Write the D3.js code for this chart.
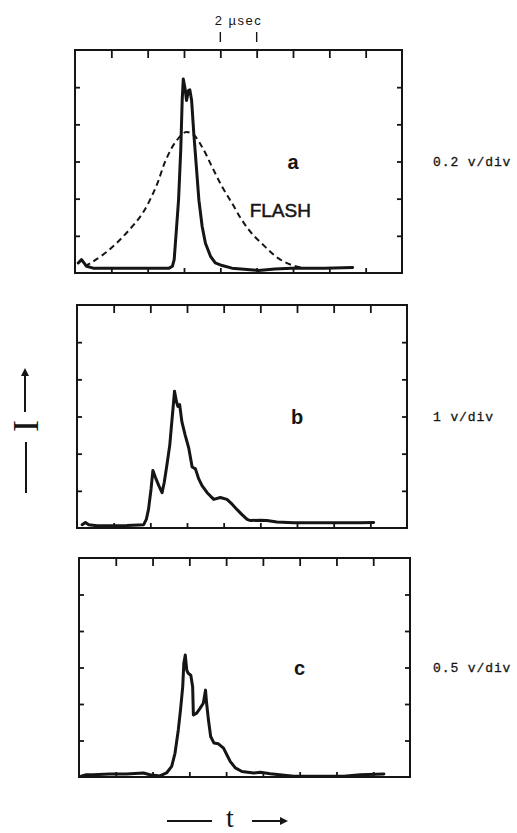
<!DOCTYPE html>
<html>
<head>
<meta charset="utf-8">
<script src="https://cdn.jsdelivr.net/npm/d3@7"></script>
<style>
  body { margin: 0; background: #fff; }
  svg { display: block; }
</style>
</head>
<body>
<div id="chart"></div>
<script>
// traces, in divisions (x: 0..9, y: 0..6)
var traceA = [[0.09,0.27],[0.18,0.36],[0.32,0.18],[0.5,0.13],[1.41,0.13],[2.59,0.13],[2.68,0.18],[2.73,0.36],
  [2.77,0.89],[2.85,1.96],[2.91,3.3],[2.95,4.64],[2.98,5.22],[3.03,4.96],[3.07,4.64],[3.12,4.91],[3.16,4.93],
  [3.21,4.64],[3.27,3.75],[3.34,2.86],[3.41,1.96],[3.5,1.25],[3.59,0.8],[3.73,0.45],[3.86,0.27],[4.05,0.2],
  [4.32,0.13],[5.05,0.07],[5.5,0.11],[5.95,0.13],[6.86,0.13],[7.64,0.15]];

var flashA = [[0.27,0.18],[0.5,0.31],[0.95,0.63],[1.41,1.07],[1.86,1.61],[2.23,2.32],[2.5,3.04],[2.77,3.53],
  [3.05,3.79],[3.27,3.71],[3.5,3.39],[3.77,2.86],[4.05,2.32],[4.32,1.88],[4.59,1.43],[4.86,1.07],[5.23,0.71],
  [5.59,0.4],[5.95,0.22],[6.32,0.13]];

var traceB = [[0.14,0.09],[0.23,0.15],[0.32,0.09],[0.55,0.06],[1.36,0.07],[1.82,0.09],[1.89,0.23],[1.95,0.5],
  [2.02,1.05],[2.07,1.55],[2.14,1.36],[2.23,1.14],[2.32,0.95],[2.38,1.23],[2.45,1.68],[2.53,2.23],[2.57,2.68],
  [2.62,3.23],[2.66,3.68],[2.71,3.41],[2.75,3.27],[2.8,3.32],[2.86,2.86],[2.95,2.5],[3.05,2.14],[3.14,1.64],
  [3.23,1.59],[3.32,1.32],[3.41,1.14],[3.55,0.95],[3.73,0.77],[3.91,0.82],[4.09,0.77],[4.23,0.64],[4.36,0.5],
  [4.5,0.36],[4.64,0.23],[4.73,0.2],[5.0,0.21],[5.18,0.2],[5.45,0.16],[5.91,0.14],[6.82,0.14],[7.73,0.14],[8.09,0.15]];

var traceC = [[0.06,0.02],[0.2,0.06],[0.38,0.06],[0.84,0.08],[1.29,0.08],[1.75,0.11],[1.93,0.06],[2.2,0.03],
  [2.38,0.11],[2.52,0.29],[2.61,0.65],[2.7,1.29],[2.76,1.84],[2.82,2.47],[2.85,3.11],[2.89,3.34],[2.93,2.93],
  [2.97,2.84],[3.04,2.79],[3.09,2.47],[3.11,1.7],[3.2,1.75],[3.29,1.88],[3.38,2.02],[3.44,2.38],[3.47,2.02],
  [3.52,1.56],[3.58,1.11],[3.67,0.93],[3.79,0.91],[3.93,0.79],[4.02,0.61],[4.11,0.43],[4.25,0.25],[4.43,0.15],
  [4.75,0.11],[4.93,0.13],[5.2,0.09],[5.84,0.02],[6.56,0.02],[7.2,0.02],[7.65,0.06],[8.29,0.08]];

var panelNames = ['a', 'b', 'c'];
var scaleLabels = ['0.2 v/div', '1 v/div', '0.5 v/div'];
var xTicks = [1, 2, 3, 4, 5, 6, 7, 8];
var yTicks = [1, 2, 3, 4, 5];
var timeMarks = [4, 5];   // the "2 µsec" bar above panel a

var W = 517, H = 833;
var svg = d3.select('#chart').append('svg').attr('width', W).attr('height', H);

var boxes = [
  {left: 75, top: 50, w: 327, h: 223},
  {left: 77, top: 305, w: 330, h: 223},
  {left: 79, top: 558, w: 331, h: 219}
];
var traces = [traceA, traceB, traceC];
var ink = '#151515';

boxes.forEach(function(b, i) {
  var x = d3.scaleLinear().domain([0, 9]).range([b.left, b.left + b.w]);
  var y = d3.scaleLinear().domain([0, 6]).range([b.top + b.h, b.top]);
  var g = svg.append('g');

  g.append('rect')
    .attr('x', x(0)).attr('y', y(6))
    .attr('width', x(9) - x(0)).attr('height', y(0) - y(6))
    .attr('fill', 'none').attr('stroke', ink).attr('stroke-width', 2);

  // inward ticks on all four sides
  var axes = [
    [d3.axisBottom(x).tickValues(xTicks).tickSize(8), 'translate(0,' + y(6) + ')'],
    [d3.axisTop(x).tickValues(xTicks).tickSize(5), 'translate(0,' + y(0) + ')'],
    [d3.axisRight(y).tickValues(yTicks).tickSize(5), 'translate(' + x(0) + ',0)'],
    [d3.axisLeft(y).tickValues(yTicks).tickSize(5), 'translate(' + x(9) + ',0)']
  ];
  axes.forEach(function(a) {
    var ag = g.append('g').attr('transform', a[1]).call(a[0].tickFormat(''));
    ag.select('.domain').remove();
    ag.selectAll('line').attr('stroke', ink).attr('stroke-width', 1.8);
  });

  var line = d3.line().x(function(d) { return x(d[0]); }).y(function(d) { return y(d[1]); });

  if (i === 0) {
    g.append('path').datum(flashA)
      .attr('d', line.curve(d3.curveCatmullRom))
      .attr('fill', 'none').attr('stroke', ink).attr('stroke-width', 2)
      .attr('stroke-dasharray', '6,4');
    line.curve(d3.curveLinear);
  }

  g.append('path').datum(traces[i])
    .attr('d', line)
    .attr('fill', 'none').attr('stroke', ink).attr('stroke-width', 3)
    .attr('stroke-linejoin', 'round').attr('stroke-linecap', 'round');

  g.append('text')
    .attr('x', x(6)).attr('y', y(2.95))
    .attr('text-anchor', 'middle').attr('dominant-baseline', 'middle')
    .style('font-family', 'Liberation Sans, Arial, sans-serif')
    .style('font-size', '20px').style('font-weight', 'bold')
    .attr('fill', ink)
    .text(panelNames[i]);

  svg.append('text')
    .attr('x', 433).attr('y', y(3) + 4)
    .style('font-family', 'Liberation Mono, Courier New, monospace')
    .style('font-size', '13px').style('letter-spacing', '0.9px')
    .attr('fill', ink).attr('stroke', ink).attr('stroke-width', 0.3)
    .text(scaleLabels[i]);

  if (i === 0) {
    g.append('text')
      .attr('x', x(5.65)).attr('y', y(1.5))
      .attr('text-anchor', 'middle')
      .style('font-family', 'Liberation Sans, Arial, sans-serif')
      .style('font-size', '19px')
      .attr('fill', ink).attr('stroke', ink).attr('stroke-width', 0.5)
      .text('FLASH');

    g.selectAll('.tmark').data(timeMarks).enter().append('line')
      .attr('x1', function(d) { return x(d); }).attr('x2', function(d) { return x(d); })
      .attr('y1', 32).attr('y2', 42)
      .attr('stroke', ink).attr('stroke-width', 1.4);

    g.append('text')
      .attr('x', x(4.5)).attr('y', 25)
      .attr('text-anchor', 'middle')
      .style('font-family', 'Liberation Sans, Arial, sans-serif')
      .style('font-size', '13px').style('letter-spacing', '1.5px')
      .attr('fill', ink)
      .text('2 \u00b5sec');
  }
});

// intensity label on the left: arrow, sideways I, bar
svg.append('defs').append('marker')
  .attr('id', 'head').attr('viewBox', '0 0 10 10')
  .attr('refX', 5).attr('refY', 5)
  .attr('markerWidth', 4).attr('markerHeight', 4)
  .attr('orient', 'auto')
  .append('path').attr('d', 'M0,0 L10,5 L0,10 z').attr('fill', ink);

svg.append('line')
  .attr('x1', 25).attr('x2', 25).attr('y1', 412).attr('y2', 372)
  .attr('stroke', ink).attr('stroke-width', 2).attr('marker-end', 'url(#head)');
svg.append('text')
  .attr('transform', 'translate(26,426) rotate(-90)')
  .attr('text-anchor', 'middle').attr('dominant-baseline', 'central')
  .style('font-family', 'Liberation Serif, Times New Roman, serif')
  .style('font-size', '36px')
  .attr('fill', ink)
  .text('I');
svg.append('line')
  .attr('x1', 26).attr('x2', 26).attr('y1', 442).attr('y2', 493)
  .attr('stroke', ink).attr('stroke-width', 2);

// time label at the bottom
svg.append('line')
  .attr('x1', 167).attr('x2', 212).attr('y1', 821).attr('y2', 821)
  .attr('stroke', ink).attr('stroke-width', 2);
svg.append('text')
  .attr('x', 230).attr('y', 827)
  .attr('text-anchor', 'middle')
  .style('font-family', 'Liberation Serif, Times New Roman, serif')
  .style('font-size', '28px')
  .attr('fill', ink)
  .text('t');
svg.append('line')
  .attr('x1', 252).attr('x2', 284).attr('y1', 821).attr('y2', 821)
  .attr('stroke', ink).attr('stroke-width', 2).attr('marker-end', 'url(#head)');
</script>
</body>
</html>
